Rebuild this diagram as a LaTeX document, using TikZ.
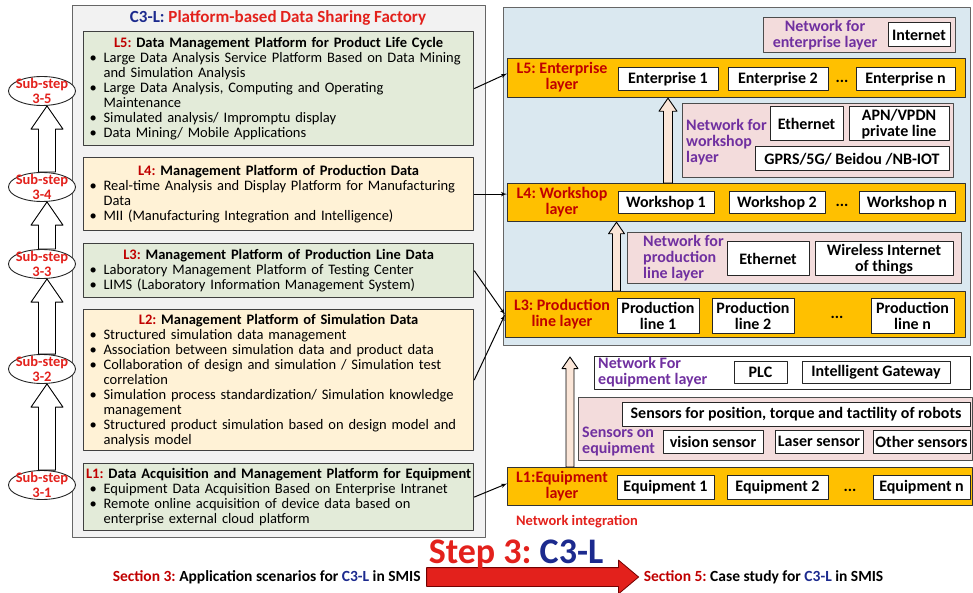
\documentclass[tikz,border=0pt]{standalone}
\usepackage{fontspec}
\setmainfont{Carlito}
\usetikzlibrary{arrows,positioning,calc,shapes.geometric,shapes.arrows}
\frenchspacing

\definecolor{factorygray}{HTML}{F2F2F2}
\definecolor{lgreen}{HTML}{E3EBD9}
\definecolor{lyellow}{HTML}{FFF2D6}
\definecolor{lblue}{HTML}{DAE8F0}
\definecolor{barorange}{HTML}{FFC000}
\definecolor{netpink}{HTML}{F3DCDC}
\definecolor{netpurple}{HTML}{7030A0}
\definecolor{darkred}{HTML}{C00000}
\definecolor{brightred}{HTML}{E3211C}
\definecolor{navy}{HTML}{1C2A8E}
\definecolor{liftfill}{HTML}{FBE6D8}

% bullet item and its continuation line
\newcommand{\bul}{\par\noindent\makebox[14pt][l]{\textbullet}}
\newcommand{\cont}{\par\noindent\hspace*{14pt}}
% centred platform heading
\newcommand{\boxhead}[2]{\centerline{\bfseries\textcolor{darkred}{#1:} #2}}
% block arrow: fill, lower point, upper point, half shaft, half head
\newcommand{\liftarrow}[5]{%
  \draw[line width=0.9pt, fill=#1] let \p1=(#2), \p2=(#3) in
    (\x1-#4pt,\y1) -- (\x1-#4pt,\y2-1.45*#5pt) -- (\x1-#5pt,\y2-1.45*#5pt) -- (\x1,\y2)
    -- (\x1+#5pt,\y2-1.45*#5pt) -- (\x1+#4pt,\y2-1.45*#5pt) -- (\x1+#4pt,\y1) -- cycle;}

\begin{document}
\begin{tikzpicture}[x=1pt, y=-1pt, line join=round,
            platform/.style={draw=black!75, line width=1.2pt, anchor=north west, text width=378pt,
                inner xsep=6pt, inner ysep=3pt, align=left, font=\fontsize{14.5}{15}\selectfont},
            substep/.style={ellipse, draw=black!85, line width=0.9pt, fill=white, text=brightred,
                align=center, font=\fontsize{14.5}{15}\selectfont\bfseries,
                minimum width=67pt, minimum height=29pt, inner sep=-12pt},
            layerbar/.style={draw=black!80, line width=1.2pt, fill=barorange, anchor=north west},
            layertag/.style={text=darkred, align=center},
            unit/.style={draw=black!85, line width=1pt, fill=white, inner sep=1pt, align=center},
            netarea/.style={draw=black!70, line width=1.2pt, fill=netpink, anchor=north west},
            netlabel/.style={text=netpurple, align=left, anchor=west, inner sep=0pt},
            dots/.style={inner sep=0pt},
            link/.style={draw, line width=1pt, -latex'}]
        \useasboundingbox (0,0) rectangle (973,593);

        % platform side
        \node[draw=black!60, line width=1pt, fill=factorygray, anchor=north west,
              minimum width=413pt, minimum height=532pt] (factory) at (72,5) {};
        \node[font=\fontsize{17}{18}\selectfont\bfseries] (factorytitle) at (278,18)
            {\textcolor{navy}{C3-L:} \textcolor{brightred}{Platform-based Data Sharing Factory}};

        \node[platform, fill=lgreen, minimum height=114pt] (l5box) at (83,31) {%
            \boxhead{L5}{Data Management Platform for Product Life Cycle}
            \bul Large Data Analysis Service Platform Based on Data Mining
            \cont and Simulation Analysis
            \bul Large Data Analysis, Computing and Operating
            \cont Maintenance
            \bul Simulated analysis/ Impromptu display
            \bul Data Mining/ Mobile Applications};
        \node[platform, fill=lyellow, minimum height=73pt] (l4box) at (83,157) {%
            \boxhead{L4}{Management Platform of Production Data}
            \bul Real-time Analysis and Display Platform for Manufacturing
            \cont Data
            \bul MII (Manufacturing Integration and Intelligence)};
        \node[platform, fill=lgreen, minimum height=54pt] (l3box) at (83,243) {%
            \boxhead{L3}{Management Platform of Production Line Data}
            \bul Laboratory Management Platform of Testing Center
            \bul LIMS (Laboratory Information Management System)};
        \node[platform, fill=lyellow, minimum height=141pt] (l2box) at (83,309) {%
            \boxhead{L2}{Management Platform of Simulation Data}
            \bul Structured simulation data management
            \bul Association between simulation data and product data
            \bul Collaboration of design and simulation / Simulation test
            \cont correlation
            \bul Simulation process standardization/ Simulation knowledge
            \cont management
            \bul Structured product simulation based on design model and
            \cont analysis model};
        \node[platform, fill=lgreen, minimum height=67pt] (l1box) at (83,463) {%
            \boxhead{L1}{Data Acquisition and Management Platform for Equipment}
            \bul Equipment Data Acquisition Based on Enterprise Intranet
            \bul Remote online acquisition of device data based on
            \cont enterprise external cloud platform};

        % sub-steps
        \node[substep] (s5) at (42,91) {Sub-step\\3-5};
        \node[substep] (s4) at (42,187) {Sub-step\\3-4};
        \node[substep] (s3) at (42,264) {Sub-step\\3-3};
        \node[substep] (s2) at (42,369) {Sub-step\\3-2};
        \node[substep] (s1) at (42,485) {Sub-step\\3-1};
        \liftarrow{white}{[xshift=5pt]s1.north}{s2.south}{8.5}{16}
        \liftarrow{white}{[xshift=5pt]s2.north}{s3.south}{8.5}{16}
        \liftarrow{white}{[xshift=5pt]s3.north}{s4.south}{8.5}{16}
        \liftarrow{white}{[xshift=5pt]s4.north}{s5.south}{8.5}{16}

        % shop floor side
        \node[draw=black!60, line width=1pt, fill=lblue, anchor=north west,
              minimum width=467pt, minimum height=338pt] (plant) at (503,7) {};

        \begin{scope}[font=\fontsize{16}{16}\selectfont\bfseries]
        \node[netarea, minimum width=192pt, minimum height=35pt] (netent) at (763,17) {};
        \node[netlabel, anchor=center, align=center] (netentlbl) at (825,35) {Network for\\enterprise layer};
        \node[unit, minimum width=62pt, minimum height=24pt] (internet) at (919,35) {Internet};

        \node[layerbar, minimum width=458pt, minimum height=39pt] (bar5) at (507,58) {};
        \node[layertag] (tag5) at (562,77.5) {L5: Enterprise\\layer};
        \node[unit, minimum width=100pt, minimum height=23pt] (ent1) at (668,79.5) {Enterprise 1};
        \node[unit, minimum width=100pt, minimum height=23pt, right=9pt of ent1] (ent2) {Enterprise 2};
        \node[dots] (entdots) at (842,81) {...};
        \node[unit, minimum width=99pt, minimum height=23pt] (entn) at (905.5,79.5) {Enterprise n};

        \node[netarea, minimum width=271pt, minimum height=74pt] (netws) at (682,103) {};
        \node[netlabel] (netwslbl) at (686,142) {Network for\\workshop\\layer};
        \node[unit, minimum width=73pt, minimum height=34pt] (wseth) at (806.5,124) {Ethernet};
        \node[unit, minimum width=100pt, minimum height=34pt] (wsapn) at (899,124) {APN/VPDN\\private line};
        \node[unit, minimum width=194pt, minimum height=24pt] (wsgprs) at (852,159) {GPRS/5G/ Beidou /NB-IOT};

        \node[layerbar, minimum width=458pt, minimum height=38pt] (bar4) at (507,183) {};
        \node[layertag] (tag4) at (562,202) {L4: Workshop\\layer};
        \node[unit, minimum width=96pt, minimum height=22pt] (ws1) at (666,203) {Workshop 1};
        \node[unit, minimum width=96pt, minimum height=22pt] (ws2) at (777,203) {Workshop 2};
        \node[dots] (wsdots) at (842,205) {...};
        \node[unit, minimum width=96pt, minimum height=22pt] (wsn) at (907,203) {Workshop n};

        \node[netarea, minimum width=334pt, minimum height=51pt] (netpl) at (627,232) {};
        \node[netlabel] (netpllbl) at (643,258) {Network for\\production\\line layer};
        \node[unit, minimum width=82pt, minimum height=34pt] (pleth) at (768,259) {Ethernet};
        \node[unit, minimum width=138pt, minimum height=34pt] (plwiot) at (884,259) {Wireless Internet\\of things};

        \node[layerbar, minimum width=460pt, minimum height=46pt] (bar3) at (505,291) {};
        \node[layertag] (tag3) at (562,314) {L3: Production\\line layer};
        \node[unit, minimum width=82pt, minimum height=35pt] (pl1) at (658,315.5) {Production\\line 1};
        \node[unit, minimum width=82pt, minimum height=35pt] (pl2) at (753,315.5) {Production\\line 2};
        \node[dots] (pldots) at (837,317) {...};
        \node[unit, minimum width=83pt, minimum height=35pt] (pln) at (912.5,315.5) {Production\\line n};

        \node[unit, anchor=north west, line width=1.2pt, minimum width=376pt, minimum height=33pt] (neteq) at (594,356) {};
        \node[netlabel] (neteqlbl) at (598,372) {Network For\\equipment layer};
        \node[unit, minimum width=53pt, minimum height=22pt] (plc) at (760.5,372) {PLC};
        \node[unit, minimum width=148pt, minimum height=22pt] (gateway) at (876,372) {Intelligent Gateway};

        \node[netarea, minimum width=394pt, minimum height=63pt] (sensors) at (578,397) {};
        \node[netlabel] (sensorslbl) at (582,442) {Sensors on\\equipment};
        \node[unit, minimum width=348pt, minimum height=24pt] (robots) at (796,414) {Sensors for position, torque and tactility of robots};
        \node[unit, minimum width=100pt, minimum height=23pt] (vision) at (713,441.5) {vision sensor};
        \node[unit, minimum width=88pt, minimum height=23pt] (laser) at (819,441.5) {Laser sensor};
        \node[unit, minimum width=97pt, minimum height=23pt] (othersens) at (921.5,441.5) {Other sensors};

        \node[layerbar, minimum width=465pt, minimum height=38pt] (bar1) at (507,467) {};
        \node[layertag] (tag1) at (562,486) {L1:Equipment\\layer};
        \node[unit, minimum width=97pt, minimum height=24pt] (eq1) at (665.5,487) {Equipment 1};
        \node[unit, minimum width=101pt, minimum height=24pt] (eq2) at (777.5,487) {Equipment 2};
        \node[dots] (eqdots) at (850,490) {...};
        \node[unit, minimum width=97pt, minimum height=24pt] (eqn) at (921.5,487) {Equipment n};
        \end{scope}

        \coordinate (eqlift) at (570,357);
        \liftarrow{liftfill}{ent1 |- bar4.north}{ent1 |- bar5.south}{4.5}{9}
        \liftarrow{liftfill}{pl1.west |- bar3.north}{pl1.west |- bar4.south}{4}{8}
        \liftarrow{liftfill}{eqlift |- bar1.north}{eqlift}{4}{8}

        % platform -> layer
        \draw[link] (l5box.east) -- ([yshift=4.5pt]bar5.west);
        \draw[link] (l4box.east) -- (l4box.east -| bar4.west);
        \draw[link] (l3box.east) -- (bar3.west);
        \draw[link] (l2box.east) -- (bar3.west);
        \draw[link] (l1box.east) -- ([yshift=3pt]bar1.west);

        % step banner
        \node[font=\fontsize{14.5}{15}\selectfont\bfseries, text=brightred] (netint) at (577,522) {Network integration};
        \node[single arrow, draw=red!45!black, line width=0.8pt, fill=brightred, minimum height=212pt,
              inner xsep=0pt, inner ysep=9pt, single arrow head extend=7.5pt, single arrow tip angle=80] (steparrow) at (527,577) {};
        \node[font=\fontsize{36}{36}\selectfont\bfseries, anchor=base] (steptitle) at (516,563)
            {\textcolor{brightred}{Step 3:} \textcolor{navy}{C3-L}};
        \node[font=\fontsize{15.5}{16}\selectfont\bfseries, left=2pt of steparrow] (sec3)
            {\textcolor{darkred}{Section 3:} Application scenarios for \textcolor{navy}{C3-L} in SMIS};
        \node[font=\fontsize{15.5}{16}\selectfont\bfseries, right=1pt of steparrow] (sec5)
            {\textcolor{darkred}{Section 5:} Case study for \textcolor{navy}{C3-L} in SMIS};
\end{tikzpicture}
\end{document}
